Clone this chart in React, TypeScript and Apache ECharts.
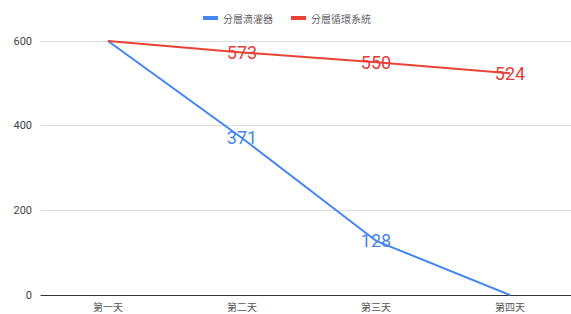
import React, { useEffect, useRef } from "react";
import * as echarts from "echarts";

const categories = ["第一天", "第二天", "第三天", "第四天"];
const dripValues = [600, 371, 128, 0];
const circValues = [600, 573, 550, 524];
const seriesNames = ["分層滴灌器", "分層循環系統"];
const dripLabelShown = [false, true, true, false];
const circLabelShown = [false, true, true, true];

export default function App() {
  const ref = useRef<HTMLDivElement>(null);
  useEffect(() => {
    const chart = echarts.init(ref.current!, null, { renderer: "svg" });
    const mk = (vals: number[], shown: boolean[], color: string) =>
      vals.map((v, i) => ({
        value: v,
        label: {
          show: shown[i],
          position: "inside",
          color,
          fontSize: 18,
          fontFamily: "Roboto, sans-serif",
        },
      }));
    chart.setOption({
      animation: false,
      legend: {
        top: 8,
        left: 198,
        itemWidth: 15,
        itemHeight: 4,
        itemGap: 18,
        icon: "rect",
        textStyle: { color: "#666", fontSize: 10, fontFamily: "Noto Sans CJK TC" },
        data: seriesNames,
      },
      grid: { left: 41, right: 0, top: 41, bottom: 19 },
      xAxis: {
        type: "category",
        data: categories,
        boundaryGap: true,
        axisTick: { show: false },
        axisLine: { lineStyle: { color: "#333", width: 1 } },
        axisLabel: { color: "#555", fontSize: 10, margin: 6, fontFamily: "Noto Sans CJK TC" },
      },
      yAxis: {
        type: "value",
        min: 0,
        max: 600,
        interval: 200,
        axisLine: { show: false },
        axisTick: { show: false },
        axisLabel: { color: "#444", fontSize: 11, margin: 9, fontFamily: "Roboto, sans-serif" },
        splitLine: { lineStyle: { color: "#ddd" } },
      },
      series: [
        {
          name: seriesNames[0],
          type: "line",
          data: mk(dripValues, dripLabelShown, "#4a86e8"),
          showSymbol: true,
          symbol: "circle",
          symbolSize: 0,
          lineStyle: { color: "#4285f4", width: 2 },
          itemStyle: { color: "#4285f4" },
        },
        {
          name: seriesNames[1],
          type: "line",
          data: mk(circValues, circLabelShown, "#e0403a"),
          showSymbol: true,
          symbol: "circle",
          symbolSize: 0,
          lineStyle: { color: "#ea4335", width: 2 },
          itemStyle: { color: "#ea4335" },
        },
      ],
    });
    return () => chart.dispose();
  }, []);
  return (
    <div style={{ width: 571, height: 314, position: "absolute", left: 0, top: 0, overflow: "hidden" }}>
      <div ref={ref} style={{ width: 577, height: 314 }} />
    </div>
  );
}
